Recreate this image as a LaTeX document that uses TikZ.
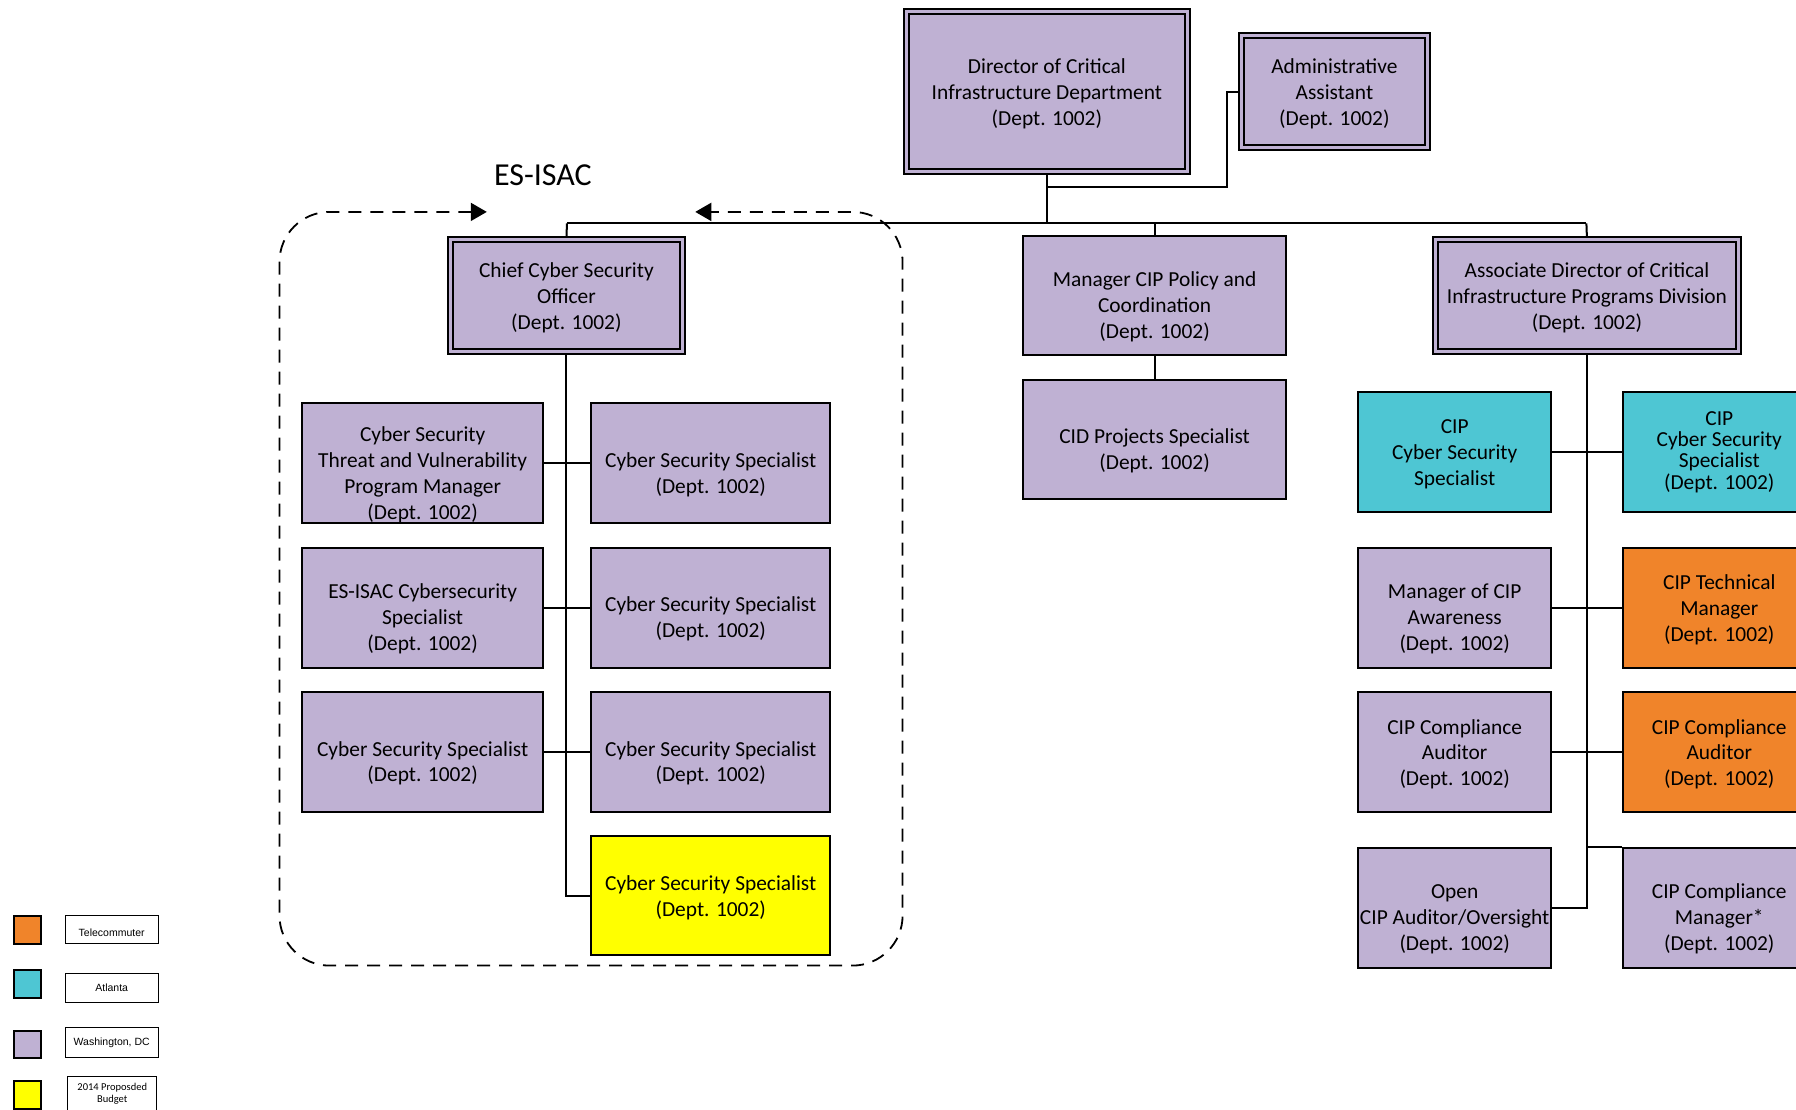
\documentclass[tikz,border=0pt]{standalone}
\usepackage{fontspec}
\setmainfont{Carlito}
\newfontfamily\legfont{Liberation Sans}
\usetikzlibrary{arrows.meta,backgrounds}

\definecolor{dcpurple}{HTML}{BFB1D3}
\definecolor{atlcyan}{HTML}{4EC6D3}
\definecolor{teleorange}{HTML}{F0842A}
\definecolor{budgetyellow}{HTML}{FFFF00}

\tikzset{
  box/.style={draw=black, line width=2pt, inner sep=0pt},
  dc/.style={box, fill=dcpurple},
  atl/.style={box, fill=atlcyan},
  tele/.style={box, fill=teleorange},
  budget/.style={box, fill=budgetyellow},
  headbox/.style={box, fill=dcpurple, double=dcpurple, double distance=3pt},
  boxtext/.style={inner sep=0pt, align=center, yshift=-2.3pt, font=\fontsize{21.4}{25.8}\selectfont},
  link/.style={line width=2pt},
  group/.style={dashed, dash pattern=on 13pt off 9pt, line width=1.8pt, rounded corners=50pt},
  swatch/.style={draw=black, line width=2.2pt, inner sep=0pt},
  keybox/.style={draw=black, line width=1pt, inner sep=0pt},
  keytext/.style={inner sep=0pt, align=center, font=\legfont\fontsize{10.5}{12}\selectfont},
  grouptip/.tip={Triangle[length=16pt,width=18pt]},
}

% #1 style, #2 name, #3-#6 corners, #7 text, #8 vertical offset of the text
\newcommand\orgbox[8]{%
  \node[#1, minimum width={(#5-#3)*1.1454pt}, minimum height={(#6-#4)*1.1454pt}]
    (#2) at ({(#3+#5)/2},{(#4+#6)/2}) {};
  \node[boxtext] (#2-text) at ([yshift=#8]#2.center) {#7};%
}

\begin{document}
\begin{tikzpicture}[x=1.1454pt, y=-1.1454pt]
\useasboundingbox (0,0) rectangle (1568,969);

% head office
\orgbox{headbox}{dir}{791}{10}{1037}{150}{Director of Critical\\Infrastructure Department\\(Dept. 1002)}{0pt}
\orgbox{headbox}{adm}{1084}{31}{1246}{129}{Administrative\\Assistant\\(Dept. 1002)}{0pt}

% second level
\orgbox{headbox}{ccso}{393}{209}{596}{307}{Chief Cyber Security\\Officer\\(Dept. 1002)}{0pt}
\orgbox{dc}{pol}{893}{206}{1123}{310}{Manager CIP Policy and\\Coordination\\(Dept. 1002)}{-9pt}
\orgbox{dc}{cid}{893}{332}{1123}{436}{CID Projects Specialist\\(Dept. 1002)}{-9pt}
\orgbox{headbox}{assoc}{1253}{209}{1518}{307}{Associate Director of Critical\\Infrastructure Programs Division\\(Dept. 1002)}{0pt}

% ES-ISAC group
\node[font=\fontsize{32}{38}\selectfont] (esisac) at (474,153) {ES-ISAC};
\orgbox{dc}{l1}{264}{352}{474}{457}{Cyber Security\\Threat and Vulnerability\\Program Manager\\(Dept. 1002)}{-9pt}
\orgbox{dc}{r1}{516}{352}{725}{457}{Cyber Security Specialist\\(Dept. 1002)}{-9pt}
\orgbox{dc}{l2}{264}{478}{474}{583}{ES-ISAC Cybersecurity\\Specialist\\(Dept. 1002)}{-9pt}
\orgbox{dc}{r2}{516}{478}{725}{583}{Cyber Security Specialist\\(Dept. 1002)}{-9pt}
\orgbox{dc}{l3}{264}{604}{474}{709}{Cyber Security Specialist\\(Dept. 1002)}{-9pt}
\orgbox{dc}{r3}{516}{604}{725}{709}{Cyber Security Specialist\\(Dept. 1002)}{-9pt}
\orgbox{budget}{r4}{516}{730}{725}{834}{Cyber Security Specialist\\(Dept. 1002)}{0pt}

% CIP programs division
\orgbox{atl}{c1}{1186}{342}{1354}{447}{CIP\\Cyber Security\\Specialist}{0pt}
\node[atl, minimum width={168*1.1454pt}, minimum height={105*1.1454pt}] (d1) at (1501,394.5) {};
\node[boxtext, font=\fontsize{21.4}{21.2}\selectfont] (d1-text) at ([yshift=2pt]d1.center) {CIP\\Cyber Security\\Specialist\\(Dept. 1002)};
\orgbox{dc}{c2}{1186}{478}{1354}{583}{Manager of CIP\\Awareness\\(Dept. 1002)}{-9pt}
\orgbox{tele}{d2}{1417}{478}{1585}{583}{CIP Technical\\Manager\\(Dept. 1002)}{0pt}
\orgbox{dc}{c3}{1186}{604}{1354}{709}{CIP Compliance\\Auditor\\(Dept. 1002)}{0pt}
\orgbox{tele}{d3}{1417}{604}{1585}{709}{CIP Compliance\\Auditor\\(Dept. 1002)}{0pt}
\orgbox{dc}{c4}{1186}{740}{1354}{845}{Open\\CIP Auditor/Oversight\\(Dept. 1002)}{-9pt}
\orgbox{dc}{d4}{1417}{740}{1585}{845}{CIP Compliance\\Manager*\\(Dept. 1002)}{-9pt}

% legend
\node[swatch, fill=teleorange, minimum size={24*1.1454pt}] (k1) at (24,812) {};
\node[keybox, minimum width={81*1.1454pt}, minimum height={25*1.1454pt}] (t1) at (97.5,811.5) {};
\node[keytext] (t1-text) at ([yshift=-3.5pt]t1.center) {Telecommuter};
\node[swatch, fill=atlcyan, minimum size={24*1.1454pt}] (k2) at (24,859) {};
\node[keybox, minimum width={81*1.1454pt}, minimum height={25*1.1454pt}] (t2) at (97.5,862.5) {};
\node[keytext] (t2-text) at (t2.center) {Atlanta};
\node[swatch, fill=dcpurple, minimum size={24*1.1454pt}] (k3) at (24,912) {};
\node[keybox, minimum width={81*1.1454pt}, minimum height={26*1.1454pt}] (t3) at (97.5,910) {};
\node[keytext] (t3-text) at (t3.center) {Washington, DC};
\node[swatch, fill=budgetyellow, minimum size={24*1.1454pt}] (k4) at (24,956) {};
\node[keybox, minimum width={78*1.1454pt}, minimum height={36*1.1454pt}] (t4) at (98,958) {};
\node[inner sep=0pt, align=center, font=\fontsize{10.5}{12.5}\selectfont] (t4-text) at (98,955) {2014 Proposded\\Budget};

% reporting lines
\coordinate (busL) at (495,195);
\coordinate (busR) at (1385,195);
\coordinate (dirjoin) at (914,163);
\coordinate (admturn) at (1071,163);
\begin{scope}[on background layer]
  \draw[link] (dir.south) -- (dir.south |- busL);
  \draw[link] (dirjoin) -- (admturn) |- (adm.west);
  \draw[link] (busL) -- (busR);
  \draw[link] (busL) -- (ccso.north);
  \draw[link] (pol.north |- busL) -- (pol.north);
  \draw[link] (busR) -- (assoc.north);
  \draw[link] (pol.south) -- (cid.north);
  \draw[link] (ccso.south) |- (r4.west);
  \draw[link] (l1.east) -- (r1.west);
  \draw[link] (l2.east) -- (r2.west);
  \draw[link] (l3.east) -- (r3.west);
  \draw[link] (assoc.south) |- (c4.east);
  \draw[link] (c1.east) -- (d1.west);
  \draw[link] (c2.east) -- (d2.west);
  \draw[link] (c3.east) -- (d3.west);
  \draw[link] (assoc.south |- d4.north) -- (d4.north west);
\end{scope}

% ES-ISAC boundary with its two arrow tips
\coordinate (gapL) at (425,185);
\coordinate (gapR) at (607,185);
\draw[group, grouptip-grouptip]
  (gapL) -- (244,185) -- (244,843) -- (788,843) -- (788,185) -- (gapR);
\end{tikzpicture}
\end{document}
